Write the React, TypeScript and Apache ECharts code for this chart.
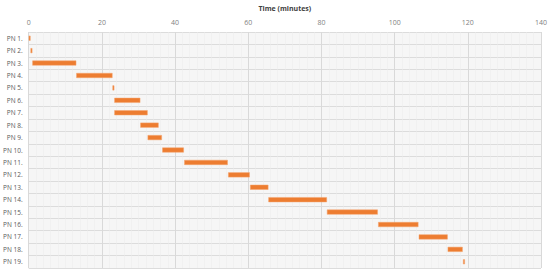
import React, { useEffect, useRef } from "react";
import * as echarts from "echarts";

const categories = [
  "PN 1.", "PN 2.", "PN 3.", "PN 4.", "PN 5.", "PN 6.", "PN 7.", "PN 8.", "PN 9.", "PN 10.",
  "PN 11.", "PN 12.", "PN 13.", "PN 14.", "PN 15.", "PN 16.", "PN 17.", "PN 18.", "PN 19.",
];
const startTimes = [0, 0.5, 1, 13, 22.9, 23.4, 23.4, 30.5, 32.5, 36.5, 42.5, 54.5, 60.5, 65.5, 81.5, 95.5, 106.6, 114.5, 118.7];
const endTimes = [0.5, 1, 13, 22.9, 23.4, 30.5, 32.5, 35.5, 36.4, 42.4, 54.4, 60.4, 65.5, 81.5, 95.4, 106.5, 114.5, 118.6, 119.2];
const durations = startTimes.map((s, i) => +(endTimes[i] - s).toFixed(2));

export default function App() {
  const ref = useRef<HTMLDivElement>(null);
  useEffect(() => {
    if (!ref.current) return;
    const chart = echarts.init(ref.current, undefined, { renderer: "svg" });
    const font = "'Open Sans', 'Noto Sans', sans-serif";
    chart.setOption({
      animation: false,
      grid: {
        left: 28.7,
        right: 8,
        top: 27,
        bottom: 10,
        show: true,
        backgroundColor: "#f6f6f6",
        borderWidth: 0,
      },
      xAxis: {
        type: "value",
        position: "top",
        min: 0,
        max: 140,
        interval: 20,
        name: "Time (minutes)",
        nameLocation: "middle",
        nameGap: 20,
        nameTextStyle: { fontFamily: font, fontSize: 7, fontWeight: "bold", color: "#404040" },
        axisLine: { show: false },
        axisTick: { show: false },
        axisLabel: { fontFamily: font, fontSize: 7, color: "#7f7f7f", margin: 6 },
        splitLine: { show: true, lineStyle: { color: "#d9d9d9", width: 1 } },
        minorTick: { show: false, splitNumber: 10 },
        minorSplitLine: { show: true, lineStyle: { color: "#ededed", width: 0.5 } },
      },
      yAxis: {
        type: "category",
        data: categories,
        inverse: true,
        axisLine: { show: false },
        axisTick: { show: false },
        axisLabel: { fontFamily: font, fontSize: 6.5, color: "#595959", margin: 6 },
        splitLine: { show: true, lineStyle: { color: "#dcdcdc", width: 1 } },
      },
      series: [
        {
          type: "bar",
          stack: "t",
          data: startTimes,
          itemStyle: { color: "transparent" },
          barWidth: 5,
          silent: true,
        },
        {
          type: "bar",
          stack: "t",
          data: durations,
          itemStyle: { color: "#ED7D31", borderColor: "#F4A46E", borderWidth: 0.5 },
          barWidth: 5,
        },
      ],
    });
    return () => chart.dispose();
  }, []);
  return (
    <div
      ref={ref}
      style={{ position: "fixed", left: 0, top: 0, width: 550, height: 278, background: "#ffffff" }}
    />
  );
}
